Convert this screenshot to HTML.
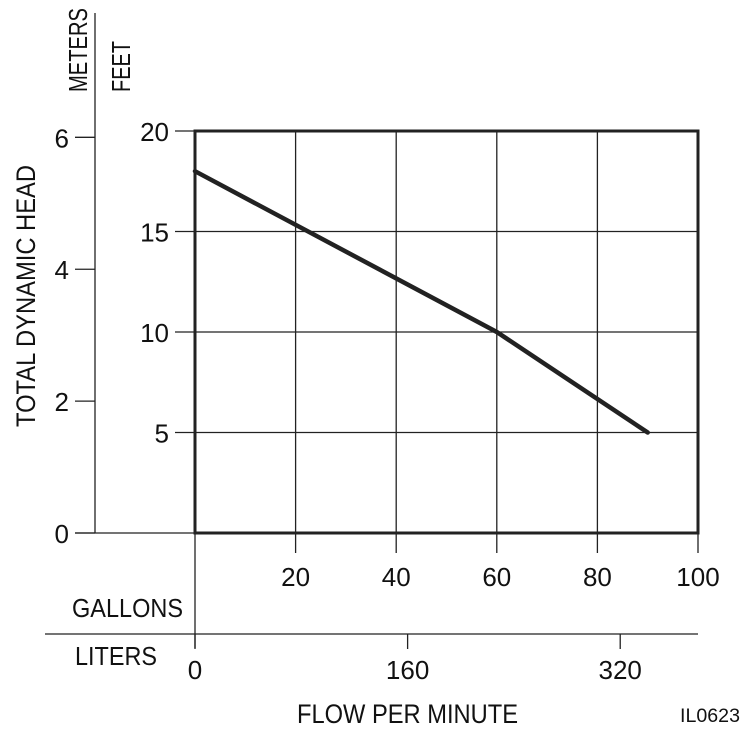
<!DOCTYPE html>
<html><head><meta charset="utf-8"><style>
html,body{margin:0;padding:0;background:#fff;}
svg text{font-family:"Liberation Sans Narrow","Liberation Sans",sans-serif;fill:#111;}
</style></head><body>
<svg width="750" height="737" viewBox="0 0 750 737" xmlns="http://www.w3.org/2000/svg" id="chart"></svg>
<script>
const galTicks=[20,40,60,80,100];
const feetTicks=[5,10,15,20];
const meterTicks=[0,2,4,6];
const literTicks=[0,160,320];
const flowGal=[0,60,90];
const headFt=[18,10,5];
const X0=195,X1=698,Y0=533,Y1=131;
const xs=g=>X0+(g/100)*(X1-X0);
const ys=f=>Y0-(f/20)*(Y0-Y1);
const ym=m=>ys(m*3.28084);
const xl=l=>xs(l/3.78541);
const svg=document.getElementById('chart');
const NS='http://www.w3.org/2000/svg';
function el(tag,attrs,name,text){const e=document.createElementNS(NS,tag);for(const k in attrs)e.setAttribute(k,attrs[k]);


if(text!==undefined)e.textContent=text;svg.appendChild(e);return e;}
function line(x1,y1,x2,y2,w,name){return el('line',{x1,y1,x2,y2,stroke:'#222','stroke-width':w},name);}
galTicks.forEach(g=>line(xs(g),Y1,xs(g),Y0+20,1.3,'grid-vertical'));
feetTicks.forEach(f=>line(X0-20,ys(f),X1,ys(f),1.3,'grid-horizontal'));
el('rect',{x:X0,y:Y1,width:X1-X0,height:Y0-Y1,fill:'none',stroke:'#222','stroke-width':3},'plot-frame');
line(95,13,95,Y0,1.3,'meters-axis');
meterTicks.forEach(m=>{line(75,ym(m),95,ym(m),1.3,'meter-tick');
el('text',{x:69,y:ym(m)+10,'font-size':26,'text-anchor':'end'},'meter-tick-label',String(m));});
line(75,Y0,X1,Y0,1.3,'baseline');
line(45,634,X1,634,1.3,'liters-axis');
line(X0,Y0,X0,648,1.3,'zero-line');
literTicks.forEach(l=>{line(xl(l),634,xl(l),649,1.3,'liter-tick');
el('text',{x:xl(l),y:679,'font-size':26,'text-anchor':'middle'},'liter-tick-label',String(l));});
feetTicks.forEach(f=>el('text',{x:169,y:ys(f)+10,'font-size':26,'text-anchor':'end'},'feet-tick-label',String(f)));
galTicks.forEach(g=>el('text',{x:xs(g),y:586,'font-size':26,'text-anchor':'middle'},'gallon-tick-label',String(g)));
el('polyline',{points:flowGal.map((g,i)=>xs(g)+','+ys(headFt[i])).join(' '),fill:'none',stroke:'#222','stroke-width':4.5,'stroke-linecap':'round','stroke-linejoin':'round'},'head-curve');
el('text',{x:72,y:617,'font-size':26,textLength:111,lengthAdjust:'spacingAndGlyphs'},'gallons-label','GALLONS');
el('text',{x:75,y:665,'font-size':26,textLength:82,lengthAdjust:'spacingAndGlyphs'},'liters-label','LITERS');
el('text',{x:297,y:723,'font-size':27,textLength:221,lengthAdjust:'spacingAndGlyphs'},'x-axis-title','FLOW PER MINUTE');
el('text',{x:680,y:722,'font-size':19,textLength:60,lengthAdjust:'spacingAndGlyphs'},'figure-id','IL0623');
el('text',{x:0,y:0,'font-size':27,textLength:262,lengthAdjust:'spacingAndGlyphs','transform':'translate(35,427) rotate(-90)'},'y-axis-title','TOTAL DYNAMIC HEAD');
el('text',{x:0,y:0,'font-size':26,textLength:84,lengthAdjust:'spacingAndGlyphs','transform':'translate(87,92) rotate(-90)'},'meters-label','METERS');
el('text',{x:0,y:0,'font-size':26,textLength:51,lengthAdjust:'spacingAndGlyphs','transform':'translate(130,92) rotate(-90)'},'feet-label','FEET');
</script>
</body></html>
